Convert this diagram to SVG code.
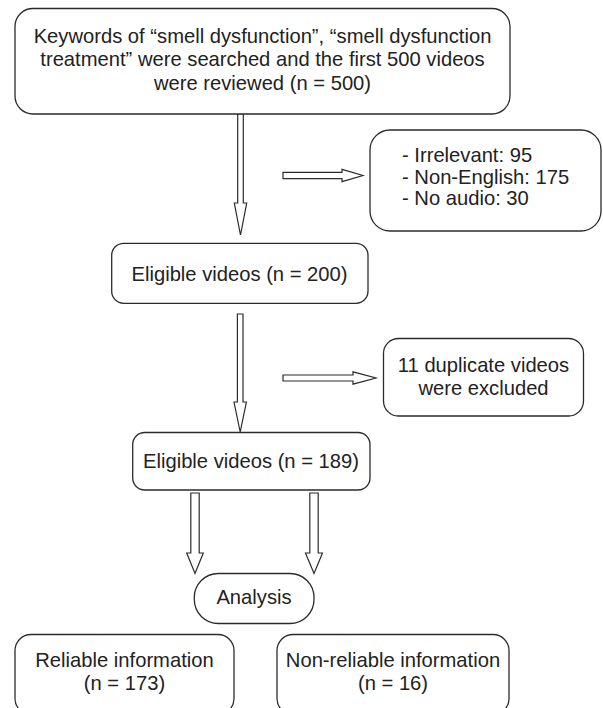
<svg xmlns="http://www.w3.org/2000/svg" width="603" height="708" viewBox="0 0 603 708">
<style>
.box{fill:#fff;stroke:#2b2b2b;stroke-width:1.3}
.arr{fill:#fff;stroke:#2b2b2b;stroke-width:1.2;stroke-linejoin:miter}
text{font-family:"Liberation Sans",Arial,sans-serif;font-size:20.2px;fill:#222}
.c{text-anchor:middle}
</style>
<rect width="603" height="708" fill="#fff"/>
<g id="connectors">
<polygon class="arr" points="237.7,114 243.3,114 243.3,203 246.7,203 240.5,235 234.3,203 237.7,203"/>
<polygon class="arr" points="283,172.3 342,172.3 342,169.3 363,175.5 342,181.7 342,178.7 283,178.7"/>
<polygon class="arr" points="237.4,314 243,314 243,402 246.4,402 240.2,432 234,402 237.4,402"/>
<polygon class="arr" points="283,375 353,375 353,371.8 376,378 353,384.2 353,381 283,381"/>
<polygon class="arr" points="190.8,493 199.2,493 199.2,553 203.3,553 195,573.5 186.7,553 190.8,553"/>
<polygon class="arr" points="309.8,493 318.2,493 318.2,553 322.5,553 314,573.5 305.5,553 309.8,553"/>
</g>
<g id="n-search">
<rect class="box" x="15" y="8.5" width="495" height="105.5" rx="18"/>
<text class="c" x="262.5" y="43">Keywords of “smell dysfunction”, “smell dysfunction</text>
<text class="c" x="262.5" y="66.3">treatment” were searched and the first 500 videos</text>
<text class="c" x="262.5" y="89.6">were reviewed (n = 500)</text>
</g>
<g id="n-excluded1">
<rect class="box" x="370" y="130" width="231" height="101" rx="20"/>
<text x="402" y="162">- Irrelevant: 95</text>
<text x="402" y="183.5">- Non-English: 175</text>
<text x="402" y="205">- No audio: 30</text>
</g>
<g id="n-eligible200">
<rect class="box" x="111.7" y="243.3" width="256.3" height="60" rx="12"/>
<text class="c" x="239.5" y="280.5">Eligible videos (n = 200)</text>
</g>
<g id="n-duplicates">
<rect class="box" x="383.5" y="338.5" width="200" height="77.5" rx="15"/>
<text class="c" x="483.5" y="371.7">11 duplicate videos</text>
<text class="c" x="483.5" y="395">were excluded</text>
</g>
<g id="n-eligible189">
<rect class="box" x="132.7" y="432.5" width="237.3" height="57.5" rx="12"/>
<text class="c" x="251" y="467.5">Eligible videos (n = 189)</text>
</g>
<g id="n-analysis">
<rect class="box" x="194.3" y="573.5" width="119.7" height="50" rx="24"/>
<text class="c" x="254" y="603.5">Analysis</text>
</g>
<g id="n-reliable">
<rect class="box" x="15" y="634.5" width="219" height="80" rx="16"/>
<text class="c" x="124.5" y="666.7">Reliable information</text>
<text class="c" x="124.5" y="690">(n = 173)</text>
</g>
<g id="n-nonreliable">
<rect class="box" x="277" y="634.5" width="232" height="80" rx="16"/>
<text class="c" x="393" y="666.7">Non-reliable information</text>
<text class="c" x="393" y="690">(n = 16)</text>
</g>
</svg>
